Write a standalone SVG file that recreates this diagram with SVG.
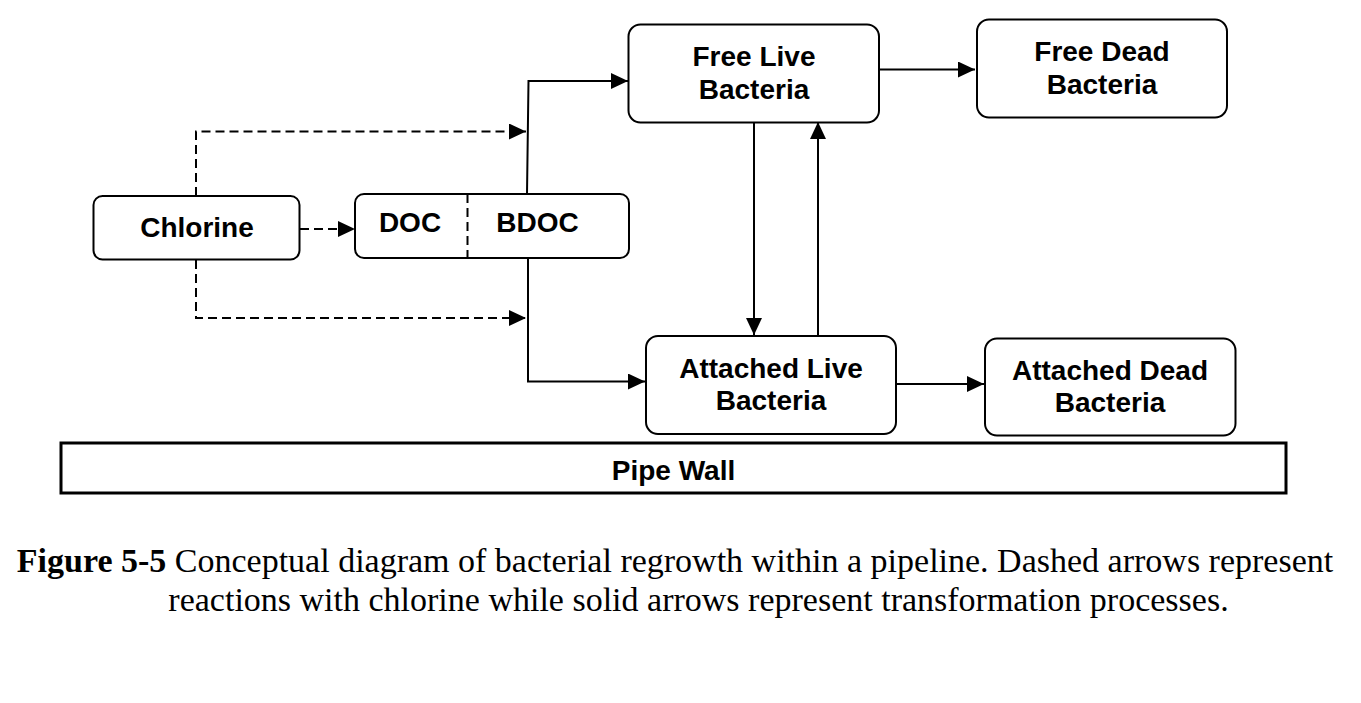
<svg xmlns="http://www.w3.org/2000/svg" width="1361" height="703" viewBox="0 0 1361 703">
<style>
.box{fill:#fff;stroke:#000;stroke-width:2}
.lbl{font-family:"Liberation Sans",Arial,sans-serif;font-weight:bold;font-size:28px;text-anchor:middle;fill:#000}
.cap{font-family:"Liberation Serif","Times New Roman",serif;font-size:34px;fill:#000}
.solid{fill:none;stroke:#000;stroke-width:2;marker-end:url(#ah)}
.dash{fill:none;stroke:#000;stroke-width:2;stroke-dasharray:9,5;marker-end:url(#ah)}
</style>
<defs>
<marker id="ah" markerUnits="userSpaceOnUse" markerWidth="18" markerHeight="16" refX="17" refY="8" orient="auto">
<path d="M0,0 L17,8 L0,16 Z" fill="#000"/>
</marker>
</defs>
<rect width="1361" height="703" fill="#fff"/>
<g id="connectors">
<path class="dash" d="M196,196 V131.5 H526"/>
<path class="dash" d="M196,260 V318 H526"/>
<path class="dash" d="M300,229 H355"/>
<path class="solid" d="M527,194 L528.5,81 H628"/>
<path class="solid" d="M528,258 V381.5 H645"/>
<path class="solid" d="M877,69.5 H975"/>
<path class="solid" d="M754,121 V335"/>
<path class="solid" d="M818,335 V122"/>
<path class="solid" d="M896,384 H984"/>
</g>
<g id="chlorine">
<rect class="box" x="93.5" y="196" width="206" height="63.5" rx="9"/>
<text class="lbl" x="197" y="237">Chlorine</text>
</g>
<g id="doc">
<rect class="box" x="355" y="194" width="274" height="64" rx="9"/>
<line x1="467.5" y1="194" x2="467.5" y2="258" stroke="#000" stroke-width="2" stroke-dasharray="9,5"/>
<text class="lbl" x="410" y="232">DOC</text>
<text class="lbl" x="537.5" y="232">BDOC</text>
</g>
<g id="free-live">
<rect class="box" x="628.5" y="24.5" width="250.5" height="98" rx="12"/>
<text class="lbl" x="754" y="66">Free Live</text>
<text class="lbl" x="754" y="98.5">Bacteria</text>
</g>
<g id="free-dead">
<rect class="box" x="977" y="19.5" width="250" height="98" rx="12"/>
<text class="lbl" x="1102" y="61">Free Dead</text>
<text class="lbl" x="1102" y="94">Bacteria</text>
</g>
<g id="attached-live">
<rect class="box" x="646" y="336" width="250" height="98" rx="12"/>
<text class="lbl" x="771" y="378">Attached Live</text>
<text class="lbl" x="771" y="409.5">Bacteria</text>
</g>
<g id="attached-dead">
<rect class="box" x="985" y="338.5" width="250.5" height="97" rx="12"/>
<text class="lbl" x="1110" y="379.5">Attached Dead</text>
<text class="lbl" x="1110" y="412">Bacteria</text>
</g>
<g id="pipe-wall">
<rect x="61" y="443" width="1225" height="50" fill="#fff" stroke="#000" stroke-width="3"/>
<text class="lbl" x="673.5" y="479.5">Pipe Wall</text>
</g>
<g id="caption">
<text class="cap" x="675" y="571.5" text-anchor="middle"><tspan font-weight="bold">Figure 5-5</tspan> Conceptual diagram of bacterial regrowth within a pipeline. Dashed arrows represent</text>
<text class="cap" x="698.5" y="610.5" text-anchor="middle">reactions with chlorine while solid arrows represent transformation processes.</text>
</g>
</svg>
